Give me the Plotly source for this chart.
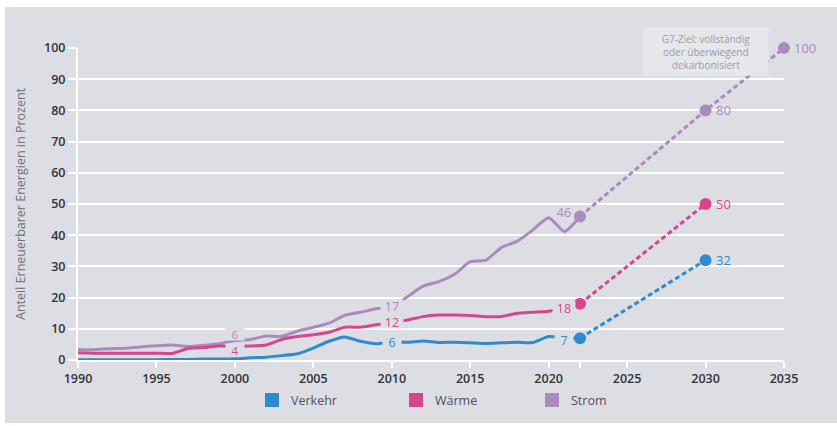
import plotly.graph_objects as go

# ---- data ----
years_hist = list(range(1990, 2023))
strom_hist = [3.4, 3.3, 3.6, 3.8, 4.2, 4.6, 4.8, 4.3, 4.7, 5.2, 6.2, 6.6, 7.7, 7.6, 9.3, 10.5, 11.8, 14.3, 15.3, 16.4, 17.0,
              20.3, 23.7, 25.1, 27.5, 31.5, 32.0, 36.1, 38.1, 41.7, 45.6, 41.2, 46.0]
waerme_hist = [2.3, 2.2, 2.2, 2.2, 2.2, 2.2, 2.1, 3.7, 4.0, 4.5, 4.4, 4.5, 4.8, 6.6, 7.5, 8.1, 8.9, 10.5, 10.5, 11.3, 12.0,
               12.8, 13.9, 14.4, 14.4, 14.3, 13.9, 13.9, 15.0, 15.3, 15.6, 16.5, 18.0]
verkehr_hist = [0.1, 0.1, 0.1, 0.1, 0.1, 0.1, 0.2, 0.2, 0.3, 0.3, 0.4, 0.7, 0.9, 1.4, 2.0, 3.8, 6.0, 7.4, 6.0, 5.2, 5.8,
                5.7, 6.1, 5.6, 5.7, 5.5, 5.3, 5.5, 5.7, 5.6, 7.5, 7.0, 7.0]

years_proj_strom = [2022, 2030, 2035]
strom_proj = [46, 80, 100]
years_proj = [2022, 2030]
waerme_proj = [18, 50]
verkehr_proj = [7, 32]

series_names = ["Verkehr", "Wärme", "Strom"]
colors = {"Verkehr": "#2f8bcf", "Wärme": "#d6468d", "Strom": "#a98bbd"}

x_ticks = [1990, 1995, 2000, 2005, 2010, 2015, 2020, 2022, 2025, 2030, 2035]
x_ticktext = ["1990", "1995", "2000", "2005", "2010", "2015", "2020", "", "2025", "2030", "2035"]
y_ticks = list(range(0, 101, 10))

# inline labels: (text, series, x, y, with gap, font size)
inline_labels = [
    ("4", "Wärme", 2000, 3.2, True, 11.5),
    ("6", "Strom", 2000, 8.4, True, 11.5),
    ("17", "Strom", 2010, 17.4, True, 12.5),
    ("12", "Wärme", 2010, 12.1, True, 12.5),
    ("6", "Verkehr", 2010, 5.7, True, 12.5),
    ("46", "Strom", 2020.95, 47.3, False, 12.5),
    ("18", "Wärme", 2020.95, 16.6, True, 12.5),
    ("7", "Verkehr", 2020.95, 6.5, True, 12.5),
]
end_labels = [
    ("100", "Strom", 2035, 100),
    ("80", "Strom", 2030, 80),
    ("50", "Wärme", 2030, 50),
    ("32", "Verkehr", 2030, 32),
]

BG = "#dcdee3"
FONT = "Open Sans"

fig = go.Figure()

hist = {"Strom": strom_hist, "Wärme": waerme_hist, "Verkehr": verkehr_hist}
proj = {"Strom": (years_proj_strom, strom_proj), "Wärme": (years_proj, waerme_proj),
        "Verkehr": (years_proj, verkehr_proj)}

for name in ["Strom", "Wärme", "Verkehr"]:
    fig.add_trace(go.Scatter(x=years_hist, y=hist[name], mode="lines",
                             line=dict(color=colors[name], width=3, shape="spline", smoothing=0.6),
                             showlegend=False, cliponaxis=False, hoverinfo="skip"))
for name in ["Strom", "Wärme", "Verkehr"]:
    px_, py_ = proj[name]
    fig.add_trace(go.Scatter(x=px_, y=py_, mode="lines+markers",
                             line=dict(color=colors[name], width=3, dash="5px,3px"),
                             marker=dict(size=12, color=colors[name]),
                             showlegend=False, cliponaxis=False, hoverinfo="skip"))

annotations = []
for text, s, x, y, gap, fs in inline_labels:
    annotations.append(dict(x=x, y=y, xref="x", yref="y", text=text, showarrow=False,
                            font=dict(family=FONT, size=fs, color=colors[s]),
                            bgcolor=BG if gap else "rgba(0,0,0,0)", borderpad=0,
                            height=12, width=(22 if len(text) > 1 else 18)))
for text, s, x, y in end_labels:
    annotations.append(dict(x=x, y=y, xref="x", yref="y", text=text, showarrow=False,
                            xanchor="left", xshift=8,
                            font=dict(family=FONT, size=13, color=colors[s])))

annotations.append(dict(x=2030.0, y=98.9, xref="x", yref="y",
                        text="G7-Ziel: vollständig<br>oder überwiegend<br>dekarbonisiert",
                        showarrow=False, font=dict(family=FONT, size=10, color="#9c9cab"),
                        bgcolor="#e5e7ea", width=122, height=45, align="center"))

# pixel helpers for paper coordinates
L, R, T, B = 78, 784, 48, 360
def pxx(p):
    return (p - L) / (R - L)
def pxy(p):
    return (B - p) / (B - T)

annotations.append(dict(x=pxx(20), y=pxy(204), xref="paper", yref="paper",
                        xanchor="center", yanchor="middle",
                        text="Anteil Erneuerbarer Energien in Prozent", textangle=-90,
                        showarrow=False, font=dict(family=FONT, size=12.5, color="#6e6e7c")))

shapes = [dict(type="rect", xref="paper", yref="paper", x0=pxx(5), x1=pxx(837), y0=pxy(423), y1=pxy(7),
               fillcolor=BG, line=dict(width=0), layer="below")]

legend_pos = {"Verkehr": 265, "Wärme": 409, "Strom": 545}
for name in series_names:
    x0 = legend_pos[name]
    shapes.append(dict(type="rect", xref="paper", yref="paper", x0=pxx(x0), x1=pxx(x0 + 14),
                       y0=pxy(407), y1=pxy(393), fillcolor=colors[name], line=dict(width=0)))
    annotations.append(dict(x=pxx(x0 + 24), y=pxy(400), xref="paper", yref="paper", text=name,
                            xanchor="left", yanchor="middle", showarrow=False,
                            font=dict(family=FONT, size=12.5, color="#50505c")))

fig.update_layout(
    width=837, height=426,
    margin=dict(l=L, r=837 - R, t=T, b=426 - B),
    paper_bgcolor="white", plot_bgcolor="rgba(0,0,0,0)",
    annotations=annotations, shapes=shapes, showlegend=False,
    xaxis=dict(range=[1990, 2035], tickvals=x_ticks, ticktext=x_ticktext, showgrid=False,
               zeroline=False, showline=True, linecolor="white", linewidth=2,
               ticks="outside", tickcolor="white", ticklen=6, tickwidth=2,
               tickfont=dict(family=FONT, size=12.5, color="#333338", weight=600)),
    yaxis=dict(range=[0, 100], tickvals=y_ticks, showgrid=True, gridcolor="white", gridwidth=2,
               zeroline=False, showline=True, linecolor="white", linewidth=2,
               ticks="outside", tickcolor="white", ticklen=8, tickwidth=2,
               tickfont=dict(family=FONT, size=12.5, color="#333338", weight=600)),
)

fig.write_html("out.html")
